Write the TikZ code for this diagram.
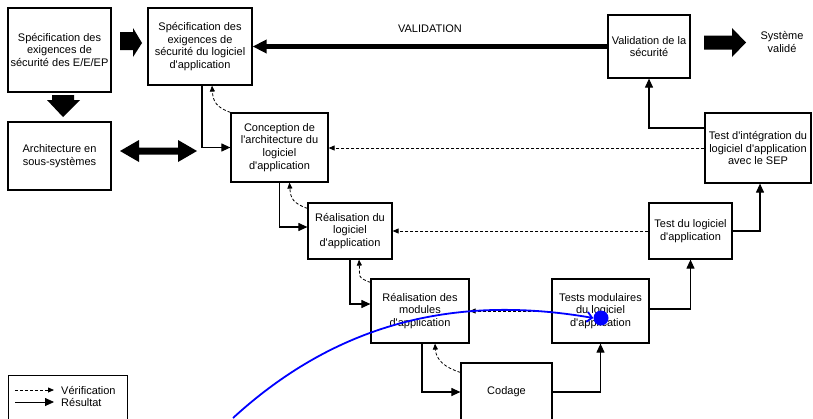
\documentclass[tikz,border=0pt]{standalone}
\usepackage{fontspec}
\setmainfont{Liberation Sans}
\usetikzlibrary{arrows.meta}
\newcommand{\ap}{\textquotesingle}

\begin{document}
\begin{tikzpicture}[x=1pt,y=-1pt,
  box/.style={draw=black,line width=1.2pt,align=center,inner sep=2pt,font=\fontsize{11}{12.7}\selectfont},
  lbl/.style={align=center,inner sep=1pt,font=\fontsize{11}{12.7}\selectfont},
  res/.style={line width=1.1pt,-{Triangle[length=9pt,width=8pt]}},
  verif/.style={line width=0.8pt,dash pattern=on 3pt off 2pt,-{Triangle[length=6pt,width=5pt]}},
  bigarrow/.style={fill=black}]
  \useasboundingbox (0,0) rectangle (813,418);
  \clip (0,0) rectangle (813,418);

  \node[box,minimum width=103pt,minimum height=84pt] (sE) at (59.5,50) {Spécification des\\exigences de\\sécurité des E/E/EP};
  \node[box,minimum width=104pt,minimum height=77pt] (sL) at (200,46.5) {Spécification des\\exigences de\\sécurité du logiciel\\d\ap application};
  \node[box,minimum width=103pt,minimum height=68pt] (arch) at (59.5,156) {Architecture en\\sous-systèmes};
  \node[box,minimum width=97pt,minimum height=69pt] (cA) at (279.5,147.5) {Conception de\\l\ap architecture du\\logiciel\\d\ap application};
  \node[box,minimum width=82pt,minimum height=63pt] (vS) at (649,46.5) {Validation de la\\sécurité};
  \node[box,minimum width=106pt,minimum height=70pt] (tI) at (758,148) {Test d\ap intégration du\\logiciel d\ap application\\avec le SEP};
  \node[box,minimum width=84pt,minimum height=56pt] (rL) at (350,231) {Réalisation du\\logiciel\\d\ap application};
  \node[box,minimum width=83pt,minimum height=56pt] (tL) at (690.5,231) {Test du logiciel\\d\ap application};
  \node[box,minimum width=98pt,minimum height=64pt] (rM) at (420,311) {Réalisation des\\modules\\d\ap application};
  \node[box,minimum width=97pt,minimum height=64pt] (tM) at (600.5,311) {Tests modulaires\\du logiciel\\d\ap application};
  \node[box,minimum width=91pt,minimum height=58pt] (cod) at (506.5,392) {Codage};

  \node[lbl] (val) at (430,29) {VALIDATION};
  \node[lbl] (sysV) at (782,42) {Système\\validé};

  % grosses fleches
  \fill[bigarrow] (120,32) -- (133,32) -- (133,28) -- (142,43) -- (133,57) -- (133,50) -- (120,50) -- cycle;
  \fill[bigarrow] (52,95) -- (74,95) -- (74,100) -- (80,100) -- (63,117) -- (47,100) -- (52,100) -- cycle;
  \fill[bigarrow] (120,151) -- (139,140) -- (139,147.5) -- (178,147.5) -- (178,140) -- (197,151) -- (178,162) -- (178,154.5) -- (139,154.5) -- (139,162) -- cycle;
  \fill[bigarrow] (704,35.5) -- (732,35.5) -- (732,28) -- (746,42.5) -- (732,57) -- (732,49.5) -- (704,49.5) -- cycle;
  \draw[line width=4.5pt,-{Triangle[length=14pt,width=13pt]}] (vS.west) -- (sL.east);

  % resultat
  \draw[res] ([xshift=2pt]sL.south) |- (cA.west);
  \draw[res] (cA.south) |- ([yshift=4pt]rL.west);
  \draw[res] (rL.south) |- ([yshift=7pt]rM.west);
  \draw[res] ([xshift=2pt]rM.south) |- (cod.west);
  \draw[res] (cod.east) -| (tM.south);
  \draw[res] ([yshift=2pt]tM.east) -| (tL.south);
  \draw[res] (tL.east) -| ([xshift=2pt]tI.south);
  \draw[res] ([yshift=20pt]tI.west) -| (vS.south);

  % verification
  \draw[verif] (tI.west) -- (tI.west -| cA.east);
  \draw[verif] (tL.west) -- (rL.east);
  \draw[verif] (tM.west) -- (rM.east);
  \draw[verif] (cA.north west) .. controls +(-14,-5) and +(1,16) .. ([xshift=12pt]sL.south);
  \draw[verif] ([yshift=-6pt]rL.north west) .. controls +(-14,-5) and +(1,16) .. ([xshift=10pt]cA.south);
  \draw[verif] ([yshift=-4pt]rM.north west) .. controls +(-14,-5) and +(1,16) .. ([xshift=9pt]rL.south);
  \draw[verif] ([yshift=-10pt]cod.north west) .. controls +(-16,-5) and +(1,16) .. ([xshift=15pt]rM.south);

  % legende
  \node[draw=black,line width=0.8pt,minimum width=119pt,minimum height=55pt] (leg) at (67.5,402.5) {};
  \coordinate (v1) at (15,390);
  \coordinate (v2) at (54,390);
  \coordinate (r1) at (15,402);
  \coordinate (r2) at (54,402);
  \draw[verif] (v1) -- (v2);
  \draw[res,line width=0.8pt] (r1) -- (r2);
  \node[lbl,anchor=west] (lV) at (60,390) {Vérification};
  \node[lbl,anchor=west] (lR) at (60,402) {Résultat};

  % trait bleu
  \coordinate (bS) at (233,418);
  \node[circle,fill=blue,inner sep=0pt,minimum size=15pt] (bDot) at (601,318) {};
  \draw[blue,line width=1.8pt,-{Straight Barb[length=5pt,width=10pt]}] (bS) .. controls (340,320) and (460,295) .. (bDot.west);

\end{tikzpicture}
\end{document}
